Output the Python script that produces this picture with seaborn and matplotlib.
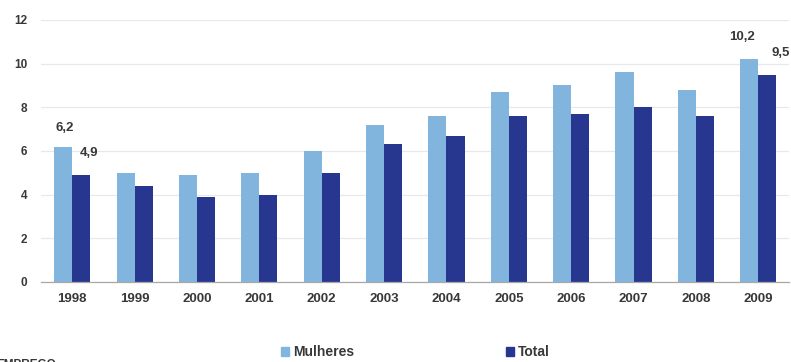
import matplotlib
matplotlib.use("Agg")
import matplotlib.pyplot as plt
import seaborn as sns
import pandas as pd
import numpy as np

# Taxa de desemprego (%) por ano
anos = ["1998", "1999", "2000", "2001", "2002", "2003",
        "2004", "2005", "2006", "2007", "2008", "2009"]
mulheres = [6.2, 5.0, 4.9, 5.0, 6.0, 7.2, 7.6, 8.7, 9.0, 9.6, 8.8, 10.2]
total = [4.9, 4.4, 3.9, 4.0, 5.0, 6.3, 6.7, 7.6, 7.7, 8.0, 7.6, 9.5]
series = ["Mulheres", "Total"]
y_ticks = [0, 2, 4, 6, 8, 10, 12]

cor_mulheres = "#82b5de"
cor_total = "#27368f"
cor_texto = "#383838"

df = pd.DataFrame({
    "ano": anos * 2,
    "serie": [series[0]] * len(anos) + [series[1]] * len(anos),
    "valor": mulheres + total,
})

sns.set_theme(style="white")
plt.rcParams["font.family"] = ["Liberation Sans", "DejaVu Sans"]

fig = plt.figure(figsize=(7.91, 3.62), dpi=100)
ax = fig.add_axes([0.052, 0.221, 0.946, 0.724])

sns.barplot(data=df, x="ano", y="valor", hue="serie", order=anos,
            hue_order=series, palette=[cor_mulheres, cor_total],
            width=0.58, saturation=1, linewidth=0, edgecolor="none",
            ax=ax, legend=False)

ax.set_ylim(0, 12)
ax.set_xlim(-0.5, len(anos) - 0.5)
ax.set_yticks(y_ticks)
ax.set_yticklabels([str(t) for t in y_ticks])
ax.yaxis.grid(True, color="#e8e8e8", linewidth=0.9)
ax.set_axisbelow(True)
ax.set_xlabel("")
ax.set_ylabel("")

for s in ["top", "right", "left"]:
    ax.spines[s].set_visible(False)
ax.spines["bottom"].set_color("#a8a8a8")
ax.spines["bottom"].set_linewidth(0.9)

ax.set_xticks(np.arange(-0.5, len(anos), 1.0), minor=True)
ax.tick_params(axis="x", which="minor", length=3, color="#a8a8a8", width=0.8,
               direction="out")
ax.tick_params(axis="x", which="major", length=0, pad=8, labelsize=9.5,
               labelcolor=cor_texto)
ax.tick_params(axis="y", length=0, pad=10, labelsize=8.5, labelcolor=cor_texto)
for lbl in ax.get_xticklabels() + ax.get_yticklabels():
    lbl.set_fontweight("bold")

# Rótulos de valor no primeiro e no último ano
def rotulo(i, valor, desloc, dx_px, dy_px):
    ax.annotate(f"{valor:.1f}".replace(".", ","),
                xy=(i + desloc, valor), xytext=(dx_px * 0.72, dy_px * 0.72),
                textcoords="offset points", ha="center", va="center",
                fontsize=9.5, fontweight="bold", color=cor_texto)

rotulo(0, mulheres[0], -0.145, 1, 19)
rotulo(0, total[0], 0.145, 8, 22)
last = len(anos) - 1
rotulo(last, mulheres[last], -0.145, -7, 22)
rotulo(last, total[last], 0.145, 13, 22)

# Legenda na base
handles = [plt.Rectangle((0, 0), 1, 1, color=cor_mulheres),
           plt.Rectangle((0, 0), 1, 1, color=cor_total)]
leg = fig.legend(handles, series, loc="center", bbox_to_anchor=(0.525, 0.027),
                 ncol=2, frameon=False, fontsize=10, handlelength=0.6,
                 handleheight=0.6, handletextpad=0.3, columnspacing=10.9,
                 labelcolor=cor_texto)
for t in leg.get_texts():
    t.set_fontweight("bold")

fig.text(-0.005, -0.008, "EMPREGO", fontsize=8.5, fontweight="bold",
         color=cor_texto, ha="left", va="center")

fig.savefig("out.png", dpi=100)
